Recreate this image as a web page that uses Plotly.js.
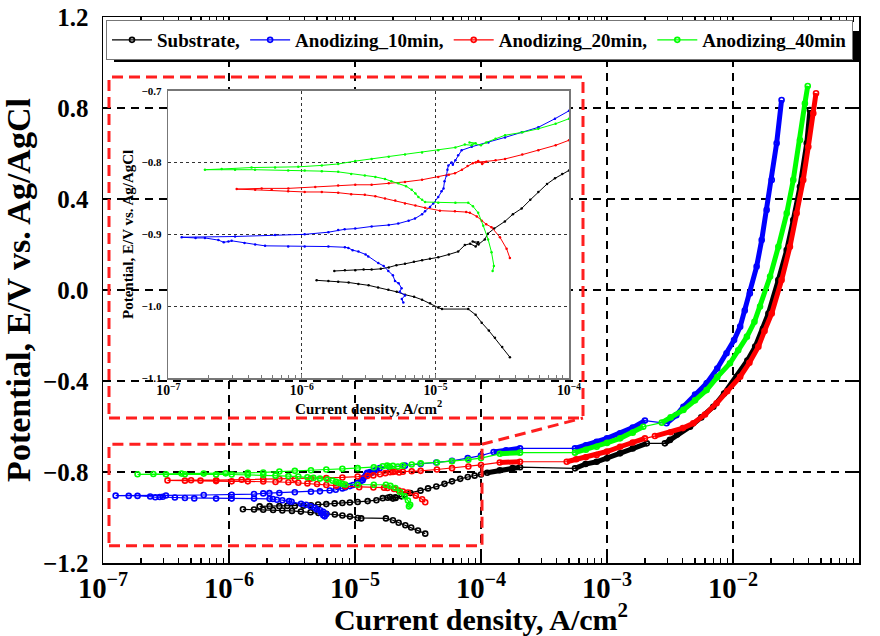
<!DOCTYPE html>
<html><head><meta charset="utf-8">
<script src="https://cdn.plot.ly/plotly-3.0.1.min.js"></script>
<style>html,body{margin:0;padding:0;background:#fff}#chart{width:880px;height:636px}</style>
</head><body><div id="chart"></div>
<script>
const seriesNames = ["Substrate,", "Anodizing_10min,", "Anodizing_20min,", "Anodizing_40min"];
const seriesColors = ["#000000", "#0000ff", "#ff0000", "#00ff00"];

// ---------- Substrate (black) ----------
const subCathX = [1.29e-6,1.58e-6,1.87e-6,2.24e-6,2.65e-6,3.16e-6,3.72e-6,4.44e-6,5.13e-6,5.92e-6,6.92e-6,7.94e-6,9.12e-6,1.05e-5,1.12e-5,1.76e-5,2.0e-5,2.22e-5,2.51e-5,2.79e-5,3.16e-5,3.61e-5];
const subCathY = [-0.964,-0.965,-0.966,-0.967,-0.969,-0.971,-0.974,-0.977,-0.980,-0.984,-0.987,-0.991,-0.996,-1.002,-1.004,-1.004,-1.012,-1.023,-1.034,-1.044,-1.057,-1.071];
const subAnodX = [1.75e-6,2.1e-6,2.51e-6,2.9e-6,3.33e-6,3.9e-6,4.47e-6,5.1e-6,5.92e-6,6.9e-6,7.94e-6,9.1e-6,1.05e-5,1.26e-5,1.48e-5,1.66e-5,1.82e-5,2.0e-5,2.09e-5,1.9e-5,2.1e-5,2.34e-5,2.47e-5,2.75e-5,3.31e-5,3.8e-5,4.42e-5,5.13e-5,5.89e-5,6.84e-5,7.85e-5,8.9e-5,1.0e-4];
const subAnodY = [-0.951,-0.950,-0.950,-0.949,-0.949,-0.948,-0.946,-0.943,-0.941,-0.938,-0.936,-0.934,-0.932,-0.928,-0.924,-0.915,-0.913,-0.917,-0.911,-0.910,-0.914,-0.907,-0.899,-0.892,-0.882,-0.872,-0.864,-0.852,-0.841,-0.830,-0.822,-0.816,-0.811];
const subHiAX = [1.12e-4,1.41e-4,1.78e-4,2.04e-4];
const subHiAY = [-0.803,-0.792,-0.783,-0.779];
const subHiBX = [5.57e-4,6.76e-4,8.28e-4,1.0e-3,1.27e-3,1.6e-3,2.07e-3];
const subHiBY = [-0.784,-0.765,-0.755,-0.740,-0.718,-0.697,-0.674];
const subHiCX = [2.88e-3,3.16e-3,3.6e-3,4.56e-3,5.6e-3,6.98e-3,8.5e-3,1.07e-2,1.3e-2,1.5e-2,1.73e-2,1.91e-2,2.29e-2,2.67e-2,3.01e-2,3.4e-2,3.85e-2,4.08e-2];
const subHiCY = [-0.674,-0.659,-0.635,-0.601,-0.560,-0.513,-0.455,-0.381,-0.310,-0.249,-0.170,-0.103,0.044,0.176,0.308,0.454,0.645,0.791];

// ---------- Anodizing 10 min (blue) ----------
const a10CathX = [1.26e-7,1.6e-7,1.88e-7,2.37e-7,2.6e-7,2.82e-7,2.98e-7,3.72e-7,4.47e-7,5.3e-7,7.9e-7,1.05e-6,1.58e-6,2.1e-6,2.23e-6,2.4e-6,2.65e-6,3.0e-6,3.14e-6,3.73e-6,4.1e-6,4.44e-6,4.8e-6,4.98e-6,5.3e-6,5.58e-6,5.4e-6,5.92e-6,5.6e-6,5.75e-6];
const a10CathY = [-0.904,-0.905,-0.905,-0.908,-0.911,-0.910,-0.909,-0.912,-0.914,-0.916,-0.917,-0.917,-0.917,-0.918,-0.919,-0.922,-0.924,-0.928,-0.931,-0.940,-0.944,-0.951,-0.957,-0.965,-0.968,-0.975,-0.980,-0.985,-0.990,-0.995];
const a10AnodX = [3.16e-7,6.3e-7,1.05e-6,1.58e-6,1.87e-6,2.09e-6,2.51e-6,3.33e-6,4.47e-6,5.27e-6,6.3e-6,7.03e-6,7.94e-6,8.36e-6,9.12e-6,9.64e-6,1.05e-5,1.11e-5,1.15e-5,1.17e-5,1.21e-5,1.23e-5,1.25e-5,1.32e-5,1.35e-5,1.41e-5,1.48e-5,1.57e-5,1.87e-5,2.49e-5,3.32e-5,4.42e-5,5.89e-5,7.85e-5,1.0e-4];
const a10AnodY = [-0.903,-0.901,-0.900,-0.897,-0.894,-0.893,-0.892,-0.889,-0.887,-0.885,-0.881,-0.878,-0.872,-0.868,-0.862,-0.857,-0.848,-0.840,-0.836,-0.826,-0.818,-0.810,-0.804,-0.800,-0.803,-0.797,-0.790,-0.783,-0.778,-0.772,-0.765,-0.758,-0.751,-0.739,-0.728];
const a10HiAX = [1.26e-4,1.58e-4,2.04e-4];
const a10HiAY = [-0.712,-0.705,-0.696];
const a10HiBX = [5.57e-4,6.8e-4,8.28e-4,1.0e-3,1.27e-3,1.6e-3,2.0e-3];
const a10HiBY = [-0.696,-0.683,-0.667,-0.652,-0.630,-0.605,-0.574];
const a10HiCX = [2.97e-3,3.55e-3,4.04e-3,5.0e-3,6.18e-3,7.5e-3,8.89e-3,1.02e-2,1.14e-2,1.24e-2,1.36e-2,1.54e-2,1.69e-2,1.85e-2,2.03e-2,2.22e-2,2.43e-2];
const a10HiCY = [-0.586,-0.550,-0.513,-0.460,-0.410,-0.345,-0.278,-0.220,-0.161,-0.090,-0.015,0.103,0.220,0.352,0.484,0.645,0.835];

// ---------- Anodizing 20 min (red) ----------
const a20CathX = [3.25e-7,4.47e-7,5.94e-7,7.9e-7,1.05e-6,1.41e-6,1.87e-6,2.34e-6,2.96e-6,3.55e-6,4.19e-6,5.0e-6,5.92e-6,7.08e-6,8.36e-6,1.08e-5,1.4e-5,1.7e-5,1.81e-5,2.04e-5,2.22e-5,2.4e-5,2.63e-5,3.04e-5,3.41e-5,3.61e-5];
const a20CathY = [-0.837,-0.838,-0.838,-0.840,-0.841,-0.841,-0.842,-0.844,-0.845,-0.847,-0.850,-0.853,-0.857,-0.860,-0.863,-0.867,-0.868,-0.869,-0.870,-0.875,-0.881,-0.886,-0.890,-0.904,-0.920,-0.933];
const a20AnodX = [5.0e-7,7.92e-7,1.26e-6,1.87e-6,2.51e-6,3.33e-6,4.47e-6,5.92e-6,7.94e-6,1.05e-5,1.26e-5,1.4e-5,1.58e-5,1.74e-5,1.9e-5,2.09e-5,2.24e-5,2.4e-5,2.0e-5,2.82e-5,3.32e-5,4.47e-5,5.89e-5,7.94e-5,1.0e-4];
const a20AnodY = [-0.836,-0.836,-0.834,-0.832,-0.831,-0.831,-0.829,-0.827,-0.824,-0.820,-0.817,-0.815,-0.810,-0.805,-0.801,-0.798,-0.802,-0.799,-0.800,-0.797,-0.795,-0.789,-0.783,-0.776,-0.769];
const a20HiAX = [1.41e-4,2.04e-4];
const a20HiAY = [-0.758,-0.755];
const a20HiBX = [4.79e-4,5.7e-4,6.8e-4,8.28e-4,1.0e-3,1.27e-3,1.6e-3,2.0e-3];
const a20HiBY = [-0.755,-0.744,-0.735,-0.725,-0.710,-0.689,-0.670,-0.652];
const a20HiCX = [2.4e-3,3.2e-3,4.0e-3,4.84e-3,6.0e-3,7.41e-3,9.0e-3,1.14e-2,1.35e-2,1.59e-2,1.78e-2,2.03e-2,2.43e-2,2.83e-2,3.2e-2,3.61e-2,3.96e-2,4.34e-2,4.56e-2];
const a20HiCY = [-0.642,-0.625,-0.607,-0.586,-0.547,-0.498,-0.445,-0.381,-0.320,-0.249,-0.180,-0.103,0.044,0.190,0.337,0.484,0.630,0.777,0.865];

// ---------- Anodizing 40 min (green) ----------
const a40CathX = [1.88e-7,3.16e-7,4.46e-7,7.9e-7,1.05e-6,1.41e-6,1.87e-6,2.34e-6,2.96e-6,3.55e-6,4.19e-6,4.68e-6,5.27e-6,6.03e-6,6.64e-6,7.08e-6,7.45e-6,7.94e-6,8.36e-6,1.05e-5,1.41e-5,1.76e-5,1.91e-5,2.09e-5,2.28e-5,2.48e-5,2.63e-5,2.74e-5,2.68e-5];
const a40CathY = [-0.810,-0.810,-0.810,-0.811,-0.811,-0.812,-0.813,-0.816,-0.818,-0.820,-0.823,-0.826,-0.829,-0.833,-0.838,-0.843,-0.848,-0.852,-0.855,-0.856,-0.856,-0.856,-0.861,-0.870,-0.888,-0.907,-0.925,-0.944,-0.951];
const a40AnodX = [2.51e-7,4.2e-7,6.3e-7,9.4e-7,1.41e-6,1.87e-6,2.51e-6,3.33e-6,4.47e-6,5.92e-6,7.94e-6,1.05e-5,1.41e-5,1.66e-5,1.87e-5,2.0e-5,1.8e-5,2.19e-5,2.4e-5,2.82e-5,3.32e-5,4.47e-5,5.89e-5,7.94e-5,1.0e-4];
const a40AnodY = [-0.809,-0.807,-0.807,-0.806,-0.804,-0.802,-0.798,-0.795,-0.792,-0.789,-0.786,-0.783,-0.779,-0.775,-0.776,-0.773,-0.772,-0.776,-0.772,-0.767,-0.762,-0.758,-0.753,-0.746,-0.739];
const a40HiAX = [1.41e-4,2.04e-4];
const a40HiAY = [-0.720,-0.715];
const a40HiBX = [5.57e-4,6.8e-4,8.28e-4,1.0e-3,1.27e-3,1.6e-3,1.94e-3];
const a40HiBY = [-0.715,-0.702,-0.689,-0.672,-0.652,-0.627,-0.601];
const a40HiCX = [2.72e-3,3.2e-3,4.04e-3,5.0e-3,6.18e-3,7.5e-3,9.46e-3,1.1e-2,1.29e-2,1.48e-2,1.64e-2,1.97e-2,2.29e-2,2.67e-2,3.01e-2,3.4e-2,3.72e-2,3.92e-2];
const a40HiCY = [-0.583,-0.560,-0.527,-0.485,-0.440,-0.383,-0.322,-0.265,-0.205,-0.140,-0.073,0.059,0.190,0.337,0.484,0.659,0.820,0.897];

// ---------- assemble ----------
const series = [
  {cx: subCathX, cy: subCathY, ax: subAnodX, ay: subAnodY, hi: [[subHiAX, subHiAY],[subHiBX, subHiBY],[subHiCX, subHiCY]], split: true},
  {cx: a10CathX, cy: a10CathY, ax: a10AnodX, ay: a10AnodY, hi: [[a10HiAX, a10HiAY],[a10HiBX, a10HiBY],[a10HiCX, a10HiCY]], split: false},
  {cx: a20CathX, cy: a20CathY, ax: a20AnodX, ay: a20AnodY, hi: [[a20HiAX, a20HiAY],[a20HiBX, a20HiBY],[a20HiCX, a20HiCY]], split: false},
  {cx: a40CathX, cy: a40CathY, ax: a40AnodX, ay: a40AnodY, hi: [[a40HiAX, a40HiAY],[a40HiBX, a40HiBY],[a40HiCX, a40HiCY]], split: false}
];

const traces = [];
const insetTraces = [];
series.forEach((s, i) => {
  const col = seriesColors[i];
  const x = s.cx.slice().reverse();
  const y = s.cy.slice().reverse();
  if (s.split) { x.push(null); y.push(null); }
  x.push(...s.ax); y.push(...s.ay);
  s.hi.forEach(seg => { x.push(...seg[0]); y.push(...seg[1]); });
  s.hi.forEach(seg => {
    traces.push({x: seg[0], y: seg[1], xaxis: 'x', yaxis: 'y', mode: 'lines',
      line: {color: col, width: 5}, showlegend: false, hoverinfo: 'skip'});
  });
  traces.push({x: x, y: y, xaxis: 'x', yaxis: 'y', name: seriesNames[i], mode: 'lines+markers',
    connectgaps: false, line: {color: col, width: 1.2},
    marker: {symbol: 'circle-open', size: 5, color: col, line: {width: 1.6, color: col}}});
  insetTraces.push({x: x, y: y, xaxis: 'x2', yaxis: 'y2', mode: 'lines+markers', showlegend: false,
    connectgaps: false, line: {color: col, width: 1}, marker: {size: 2.5, color: col}});
});

const FONT = '"Liberation Serif", "Times New Roman", serif';
const P = (px) => (px - 103) / 756;     // paper x from pixel
const Q = (py) => (563 - py) / 546;     // paper y from pixel
const redLine = {color: '#ff1f1f', width: 3, dash: '11px,6px'};

const layout = {
  width: 880, height: 636,
  margin: {l: 103, r: 21, t: 17, b: 73},
  paper_bgcolor: '#ffffff', plot_bgcolor: '#ffffff',
  font: {family: FONT, color: '#000'},
  showlegend: true,
  legend: {orientation: 'h', x: P(106), y: Q(20), xanchor: 'left', yanchor: 'top',
    bgcolor: '#ffffff', bordercolor: '#777', borderwidth: 1, itemwidth: 40,
    font: {family: FONT, size: 19, weight: 'bold', color: '#000'}},
  xaxis: {type: 'log', range: [-7, -1], domain: [0, 1], anchor: 'y', dtick: 1,
    exponentformat: 'power', showgrid: true, gridcolor: '#000', gridwidth: 1.6, griddash: '8px,6px',
    zeroline: false, showline: true, linecolor: '#000', linewidth: 1.5, mirror: 'ticks',
    ticks: 'inside', ticklen: 9, tickwidth: 1.4, tickcolor: '#000',
    minor: {ticks: 'inside', ticklen: 5, tickwidth: 1.2, tickcolor: '#000', dtick: 'D1', showgrid: false},
    tickfont: {family: FONT, size: 23, weight: 'bold'},
    title: {text: 'Current density, A/cm<sup>2</sup>', font: {family: FONT, size: 30, weight: 'bold'}, standoff: 6},
    automargin: false},
  yaxis: {range: [-1.2, 1.2], domain: [0, 1], anchor: 'x', dtick: 0.4, tick0: 0, tickformat: '.1f',
    showgrid: true, gridcolor: '#000', gridwidth: 1.6, griddash: '8px,6px',
    zeroline: false, showline: true, linecolor: '#000', linewidth: 1.5, mirror: 'ticks',
    ticks: 'inside', ticklen: 8, tickwidth: 1.4, tickcolor: '#000', ticklabelstandoff: 8,
    tickfont: {family: FONT, size: 25, weight: 'bold'},
    title: {text: 'Potential, E/V vs. Ag/AgCl', font: {family: FONT, size: 34, weight: 'bold'}, standoff: 6},
    automargin: false},
  xaxis2: {type: 'log', range: [-7, -4], domain: [P(168.3), P(569)], anchor: 'y2', dtick: 1,
    exponentformat: 'power', showgrid: true, gridcolor: '#333', gridwidth: 1, griddash: '3px,3px',
    zeroline: false, showline: true, linecolor: '#777', linewidth: 1.5, mirror: true,
    ticks: 'inside', ticklen: 4, tickwidth: 1, tickcolor: '#777',
    minor: {ticks: 'inside', ticklen: 3, tickwidth: 1, tickcolor: '#777', dtick: 'D1', showgrid: false},
    tickfont: {family: FONT, size: 11, weight: 'bold'},
    title: {text: 'Current density, A/cm<sup>2</sup>', font: {family: FONT, size: 15, weight: 'bold'}, standoff: 2},
    automargin: false},
  yaxis2: {range: [-1.1, -0.7], domain: [Q(378), Q(90.7)], anchor: 'x2', dtick: 0.1, tick0: -0.7, tickformat: '.1f',
    showgrid: true, gridcolor: '#333', gridwidth: 1, griddash: '3px,3px',
    zeroline: false, showline: true, linecolor: '#777', linewidth: 1.5, mirror: true,
    ticks: '', ticklabelstandoff: 3,
    tickfont: {family: FONT, size: 11, weight: 'bold'},
    title: {text: 'Potential, E/V vs. Ag/AgCl', font: {family: FONT, size: 15, weight: 'bold'}, standoff: 4},
    automargin: false},
  shapes: [
    // white backing under the inset (covers main grid)
    {type: 'rect', xref: 'x2', yref: 'y2', layer: 'below', x0: 3.6e-8, x1: 1.27e-4, y0: -1.153, y1: -0.681,
      fillcolor: '#ffffff', line: {width: 0}},
    // legend shadow
    {type: 'rect', xref: 'paper', yref: 'paper', layer: 'above', x0: P(114), x1: P(859), y0: Q(62), y1: Q(31),
      fillcolor: '#000000', line: {width: 0}},
    // red dashed inset outline
    {type: 'rect', xref: 'paper', yref: 'paper', layer: 'above', x0: P(109), x1: P(583), y0: Q(418), y1: Q(77),
      fillcolor: 'rgba(0,0,0,0)', line: redLine},
    // red dashed zoom region
    {type: 'rect', xref: 'paper', yref: 'paper', layer: 'above', x0: P(109), x1: P(482), y0: Q(545.7), y1: Q(444.3),
      fillcolor: 'rgba(0,0,0,0)', line: redLine},
    {type: 'line', xref: 'paper', yref: 'paper', layer: 'above', x0: P(482), y0: Q(444.3), x1: P(583), y1: Q(418),
      line: redLine}
  ]
};

Plotly.newPlot('chart', traces.concat(insetTraces), layout, {staticPlot: true, displayModeBar: false});
</script>
</body></html>
